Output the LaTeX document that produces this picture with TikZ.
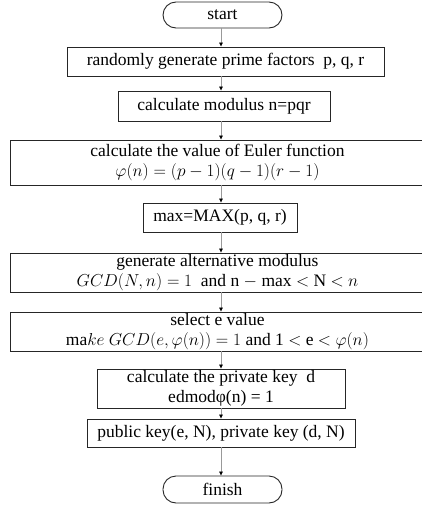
\documentclass[tikz,border=0pt]{standalone}
\usepackage{fontspec}
\setmainfont{Liberation Serif}
\usepackage{amsmath}
\usetikzlibrary{arrows.meta}

\begin{document}
\begin{tikzpicture}[x=1pt,y=-1pt,font=\fontsize{17.5}{20.5}\selectfont]
\tikzset{
  stepbox/.style={draw=black!85,line width=0.9pt,inner xsep=1pt,inner ysep=0pt,align=center,minimum height=#1},
  stepbox/.default=29pt,
  termbox/.style={draw=black!85,line width=0.9pt,rounded corners=13pt,minimum width=119pt,
    minimum height=26pt,inner ysep=0pt},
  flow/.style={draw=black!40,line width=0.7pt,-{Triangle[length=4pt,width=3.5pt,fill=black,color=black]}}
}
\useasboundingbox (0,0) rectangle (422,509);
\coordinate (ax) at (221,0);
% boxes from top to bottom
\node[termbox] (start) at (222.5,15) {start};
\node[stepbox,minimum width=317pt] (gen) at (225.5,61.5) {randomly generate prime factors\ \ p, q, r};
\node[stepbox=30pt,minimum width=212pt] (mod) at (224,106) {calculate modulus n=pqr};
\node[stepbox=45pt,minimum width=414pt,anchor=west] (euler) at (10,162.5)
  {calculate the value of Euler function\\ $\varphi(n) = (p-1)(q-1)(r-1)$};
\node[stepbox,minimum width=154pt] (max) at (220,217.5) {max=MAX(p, q, r)};
\node[stepbox=39pt,minimum width=414pt,anchor=west] (alt) at (10,272.5)
  {generate alternative modulus\\ $GCD(N,n) = 1$\ \ and n $-$ max $<$ N $<$\ $n$};
\node[stepbox=39pt,minimum width=414pt,anchor=west] (sel) at (10,331.5)
  {select e value\\ ma$ke\ GCD(e,\varphi(n)) = 1$ and 1 $<$ e $<$\ $\varphi(n)$};
\node[stepbox=39pt,minimum width=248pt] (priv) at (221,388.5)
  {calculate the private key\ \ d\\ edmodφ(n) = 1};
\node[stepbox=28pt,minimum width=268pt] (keys) at (221,433) {public key(e, N), private key (d, N)};
\node[termbox,minimum height=27pt] (finish) at (222.5,489.5) {finish};
% connectors
\foreach \a/\b in {start/gen,gen/mod,mod/euler,euler/max,max/alt,alt/sel,sel/priv,priv/keys,keys/finish}
  \draw[flow] (\a.south -| ax) -- (\b.north -| ax);
\end{tikzpicture}
\end{document}
